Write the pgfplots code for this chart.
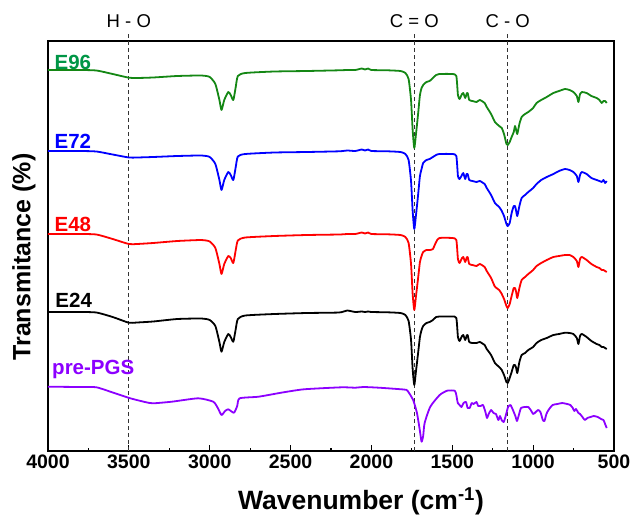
\documentclass[border=0pt]{standalone}
\usepackage{fontspec}
\setmainfont{Liberation Sans}
\usepackage{pgfplots}
\pgfplotsset{compat=1.18}
\usepackage{pgfplotstable}

\definecolor{cE96}{RGB}{20,135,20}
\definecolor{lE96}{RGB}{0,150,70}
\definecolor{cE72}{RGB}{0,0,255}
\definecolor{cE48}{RGB}{255,0,0}
\definecolor{cE24}{RGB}{0,0,0}
\definecolor{cPre}{RGB}{140,0,255}

% stacked spectra, arbitrary transmittance units (already offset)
\pgfplotstableread{
w     G     B     R     K
4000  381   300   217   139
3800  381   300   217   139
3700  380.5 299.5 216.5 138.5
3600  377   296.5 212   134
3500  373.3 293.5 207   128.3
3450  373   293.5 207   128.5
3350  373.5 294   208   129.5
3200  375   295   210   132
3050  375.5 295.5 211   132.5
3000  374   294   209.5 131
2965  367   287   203   125
2940  351   271   187   109
2927  341   261   177   99.3
2910  351   271   187   109
2885  359   279   195   117
2870  356   276   193   114
2854  351   271   188   109.3
2840  363   283   200   121
2826  375   294.5 210.5 132
2780  378   297   213.5 135.5
2600  379.5 298.5 215   137
2400  380   299   216   138
2200  380.7 299.7 216.5 138.5
2150  381   300.5 217   140.5
2100  381   300   217   139
2060  382.5 301.5 218.5 139.5
2040  381.5 300.5 217.5 139
2020  382.5 301.5 218.5 139.5
2000  381   300   217   139
1900  380.7 299.7 216.7 138.7
1820  380   299   216   138
1790  378   297   214   136
1770  372   291   208   130
1755  351   270   187   111
1745  321   240   157   82
1735  303   222   141   66
1725  316   235   154   79
1712  336   255   172   97
1700  356   275   189   114
1690  363   282   195   121
1680  366   288   199   125
1660  369   291   201   128
1640  370   292   201   129
1620  373   294   202   131
1600  376   296   209   134
1580  377   297   213   134.5
1500  377   297   213   134.5
1475  375   295   211   133
1465  356   275   192   114
1455  352   272   188   110
1440  357   276   193   115
1432  358   278   194   116
1420  353   272   189   111
1412  357   277   193   115
1405  358   277   194   116
1395  351   271   187   109
1375  350   270   186   108
1350  349   269   185   108
1330  351   270   187   109
1300  348   267   184   106
1287  344   263   180   102
1260  337   256   173   96
1236  329   248   164.3 88
1210  325   244   161   84
1194  323   240   157   81
1180  317   235   152   76
1165  307   227   145   69
1157  306   225   143   68
1145  309   228   147   73
1133  314   238   155   79
1120  319   245   163   86
1112  325   245   163   86
1105  321   240   159   83
1098  317   235   153   78
1085  327   245   163   89
1071  334   253   171   96
1050  337   256   174   98
1030  339   259   177   101
1000  343   263   181   104
979   348   267   185   108
950   351   271   188   111
916   354   274   191   113
875   358   277   194   116
840   360   280   195   117
803   362   282   196   118.3
775   361   281   196   118
751   359   279   194   117
730   355   275   190   113
720   349   269   184   107
710   357   276   192   115
699   359   279   194   117
669   358   277   191   114
640   355   273   187   110
607   353   271   184   107
590   351   270   183   106
576   348   269   181   104
565   350   271   181   104
555   350   268   180   103
545   348   270   179   102
}\spectraE

\pgfplotstableread{
w     P
4000  64.3
3800  64
3700  63.7
3585  57.7
3491  52.7
3400  49
3351  47.7
3235  49.3
3071  52.7
2978  49.3
2950  43
2927  36
2905  40
2885  41.7
2850  38.3
2830  45
2815  52.7
2698  54.3
2558  58.3
2418  61.7
2185  63.7
2100  63.3
2050  64
1952  63.3
1800  61.5
1777  60.3
1742  51
1718  37.7
1700  20
1690  9.3
1680  15
1671  28
1636  44.3
1578  56
1532  60.3
1485  60.3
1475  56
1466  48
1455  46
1443  44
1430  48
1415  49
1405  43
1392  43
1380  48
1368  47
1350  49
1340  45
1325  45
1310  46
1295  39
1285  33
1275  37
1260  41
1245  38
1230  37
1215  31
1205  35
1195  31
1182  29
1170  35
1155  44
1140  46
1125  41
1110  35
1100  30
1090  35
1075  43
1050  44
1030  44
1015  41
1000  37
990   38
970   41
955   39
940   31
930   30
918   37
905   41
880   46
850   47
820   48
790   47
770   46
755   43
745   40
735   42
720   38
710   37
695   34
680   31
665   33
645   34
625   35
600   34
580   32
565   31
555   27
545   23
}\spectraP

\begin{document}
\begin{tikzpicture}
\begin{axis}[
    scale only axis,
    width=566pt, height=410pt,
    xmin=500, xmax=4000, ymin=0, ymax=410,
    x dir=reverse,
    xtick={500,1000,...,4000},
    minor x tick num=1,
    ytick=\empty,
    xtick pos=bottom,
    tick align=inside,
    major tick length=6pt,
    minor tick length=3.5pt,
    axis line style={line width=1.4pt},
    every tick/.style={line width=1.2pt, black},
    /pgf/number format/1000 sep={},
    /pgf/number format/assume math mode=true,
    xticklabel style={font=\fontsize{19.5}{21}\selectfont\bfseries},
    xlabel={Wavenumber (cm\textsuperscript{-1})},
    xlabel style={font=\fontsize{26.5}{30}\selectfont\bfseries,
        at={(axis description cs:0.553,-0.124)}, anchor=center},
    ylabel={Transmitance (\%)},
    ylabel style={font=\fontsize{25}{28}\selectfont\bfseries,
        at={(axis description cs:-0.0424,0.473)}, anchor=center},
    clip=false,
    every axis plot/.append style={line width=1.8pt, smooth, tension=0.35, line join=round},
]
    % band positions
    \draw[dash pattern=on 4pt off 3pt, line width=1pt, black!80] (axis cs:3500,0) -- (axis cs:3500,418);
    \draw[dash pattern=on 4pt off 3pt, line width=1pt, black!80] (axis cs:1735,0) -- (axis cs:1735,418);
    \draw[dash pattern=on 4pt off 3pt, line width=1pt, black!80] (axis cs:1157,0) -- (axis cs:1157,418);
    \node[font=\fontsize{18.5}{20}\selectfont] at (axis cs:3500,430) {H - O};
    \node[font=\fontsize{18.5}{20}\selectfont] at (axis cs:1735,430) {C = O};
    \node[font=\fontsize{18.5}{20}\selectfont] at (axis cs:1157,430) {C - O};

    \addplot[cE96] table[x=w, y=G] {\spectraE};
    \addplot[cE72] table[x=w, y=B] {\spectraE};
    \addplot[cE48] table[x=w, y=R] {\spectraE};
    \addplot[cE24] table[x=w, y=K] {\spectraE};
    \addplot[cPre] table[x=w, y=P] {\spectraP};

    \node[anchor=base west, text=lE96, font=\fontsize{20.5}{22}\selectfont\bfseries, inner sep=0pt] at (axis cs:3960,382) {E96};
    \node[anchor=base west, text=cE72, font=\fontsize{20.5}{22}\selectfont\bfseries, inner sep=0pt] at (axis cs:3960,303) {E72};
    \node[anchor=base west, text=cE48, font=\fontsize{20.5}{22}\selectfont\bfseries, inner sep=0pt] at (axis cs:3960,220) {E48};
    \node[anchor=base west, text=cE24, font=\fontsize{20.5}{22}\selectfont\bfseries, inner sep=0pt] at (axis cs:3955,144) {E24};
    \node[anchor=base west, text=cPre, font=\fontsize{20.5}{22}\selectfont\bfseries, inner sep=0pt] at (axis cs:3975,77) {pre-PGS};

    \coordinate (bbbl) at (rel axis cs:-0.0848,-0.1561);
    \coordinate (bbtr) at (rel axis cs:1.0318,1.1);
\end{axis}
\pgfresetboundingbox
\path[use as bounding box] (bbbl) rectangle (bbtr);
\end{tikzpicture}
\end{document}
